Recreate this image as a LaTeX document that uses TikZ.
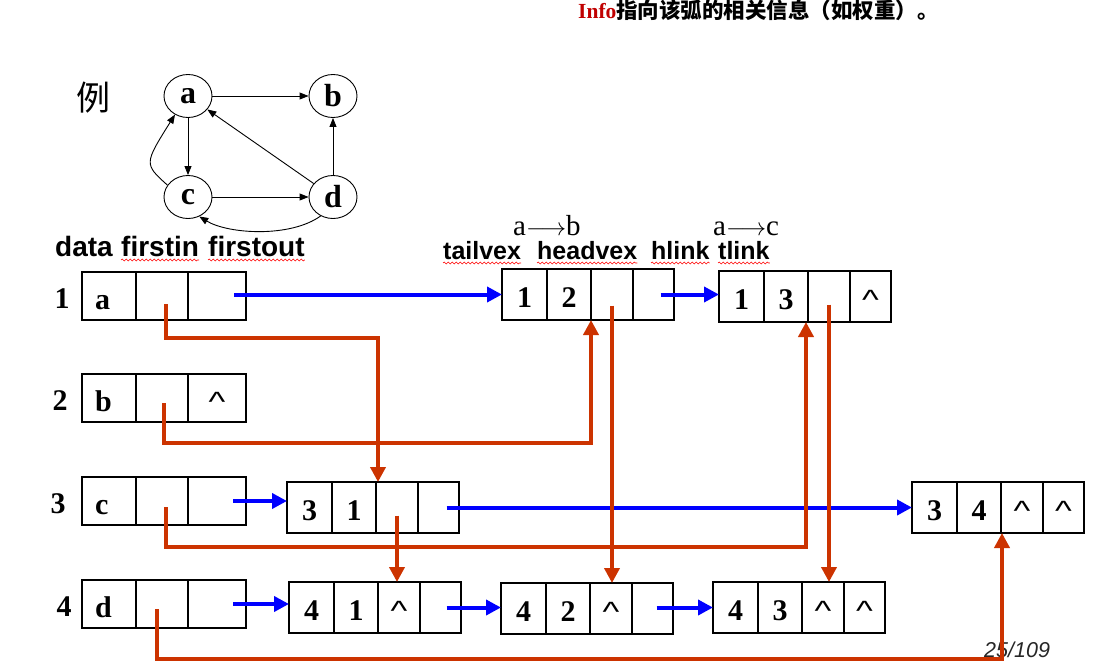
\documentclass[tikz,border=0pt]{standalone}
\usepackage{fontspec}
\setmainfont{Liberation Serif}
\setsansfont{Liberation Sans}
\newfontfamily\cjkfont{Noto Sans CJK SC}
\usetikzlibrary{positioning,arrows.meta,shapes.geometric,decorations.pathmorphing}
\definecolor{linkred}{RGB}{204,51,0}
\definecolor{linkblue}{RGB}{0,0,255}
\definecolor{infored}{RGB}{192,0,0}
\newcommand{\fsz}[1]{\fontsize{#1}{#1}\selectfont}
\newcommand{\emptyptr}{{\normalfont\sffamily\fsz{31}\scalebox{1.15}[0.9]{\textasciicircum}}}
\newcommand{\arcto}{$\longrightarrow$}

\tikzset{
  cell/.style={draw,line width=1.2pt,inner sep=0pt,outer sep=0pt,minimum width=#1,
    text height=26pt,text depth=0pt,font=\bfseries\fsz{30}},
  vcell/.style={cell=#1,minimum height=48pt},
  acell/.style={cell=#1,minimum height=51pt},
  blink/.style={linkblue,line width=4pt,-{Triangle[length=15pt,width=15pt]}},
  rlink/.style={linkred,line width=4pt,-{Triangle[length=15pt,width=15pt]}},
  gnode/.style={draw,ellipse,line width=0.9pt,minimum width=48pt,minimum height=43pt,
    inner sep=0pt,font=\bfseries\fsz{32}},
  garc/.style={line width=0.9pt,-{Triangle[length=9pt,width=7pt]}},
  squiggle/.style={red,line width=0.6pt,decorate,decoration={snake,amplitude=0.9pt,segment length=4pt}},
  head/.style={anchor=base west,inner sep=0pt,font=\sffamily\bfseries\fsz{#1}}
}

\begin{document}
\begin{tikzpicture}[x=1pt,y=-1pt]
\useasboundingbox (0,0) rectangle (1100,669);

% title line
\node[anchor=base west,inner sep=0pt,font=\fsz{21.5}] (title) at (578,19)
  {\textcolor{infored}{\bfseries Info}{\cjkfont\bfseries 指向该弧的相关信息（如权重）。}};

% the example graph
\node[font=\fsz{34}] (example) at (93,98) {\cjkfont 例};
\node[gnode] (a) at (188,96) {a};
\node[gnode] (b) at (333,96) {b};
\node[gnode] (c) at (188,197) {c};
\node[gnode] (d) at (333,197) {d};
\draw[garc] (a) -- (b);
\draw[garc] (a) -- (c);
\draw[garc] (c) -- (d);
\draw[garc] (d) -- (b);
\draw[garc] (d) -- (a);
\draw[garc] (c.150) .. controls (144,164) .. (a.235);
\draw[garc] (d.237) .. controls (290,238) and (228,234) .. (c.300);

% field names
\node[head=28] (data) at (55,256) {data};
\node[head=28] (firstin) at (121,256) {firstin};
\node[head=28] (firstout) at (208,256) {firstout};
\node[head=25] (tailvex) at (443,259) {tailvex};
\node[head=25] (headvex) at (537,259) {headvex};
\node[head=25] (hlink) at (651,259) {hlink};
\node[head=25] (tlink) at (718,259) {tlink};
\foreach \w in {firstin,firstout,tailvex,headvex,hlink,tlink}
  \draw[squiggle] ([yshift=-4pt]\w.base west) -- ([yshift=-4pt]\w.base east);
\node[anchor=base west,inner sep=0pt,font=\fsz{29}] (ab) at (513,235) {a\arcto b};
\node[anchor=base west,inner sep=0pt,font=\fsz{29}] (ac) at (713,235) {a\arcto c};

% vertex list
\foreach \r/\x/\y/\v/\last in {1/62/272/a/{},2/60/374/b/\emptyptr,3/58/477/c/{},4/64/580/d/{}}{
  \node[anchor=base,inner sep=0pt,font=\bfseries\fsz{30}] (num\r) at (\x,\y+36) {\r};
  \node[vcell=54pt,anchor=north west] (v\r d) at (82,\y) {\makebox[28pt][l]{\v}};
  \node[vcell=52pt,right=0pt of v\r d] (v\r in) {};
  \node[vcell=58pt,right=0pt of v\r in] (v\r out) {\last};
}

% arc boxes
\foreach \n/\x/\y/\p/\q/\s/\t in {A/502/269/1/2/{}/{},B/719/271/1/3/{}/\emptyptr,
    C/287/482/3/1/{}/{},D/912/482/3/4/\emptyptr/\emptyptr,E/289/582/4/1/\emptyptr/{},
    F/501/583/4/2/\emptyptr/{},G/713/582/4/3/\emptyptr/\emptyptr}{
  \node[acell=45pt,anchor=north west] (\n1) at (\x,\y) {\p};
  \node[acell=44pt,right=0pt of \n1] (\n2) {\q};
  \node[acell=42pt,right=0pt of \n2] (\n3) {\s};
  \node[acell=41pt,right=0pt of \n3] (\n4) {\t};
}

\node[anchor=base west,inner sep=0pt,font=\sffamily\itshape\fsz{21.5},black!85] (page) at (984,657) {25/109};

% tail links
\draw[blink] ([xshift=17pt]v1out.center |- A1.west) -- (A1.west);
\draw[blink] ([xshift=7pt]A4.center) -- (B1.west |- A4.center);
\draw[blink] ([xshift=16pt]v3out.center) -- (C1.west |- v3out.center);
\draw[blink] ([xshift=8pt]C4.center) -- (D1.west);
\draw[blink] ([xshift=16pt]v4out.center) -- (E1.west |- v4out.center);
\draw[blink] ([xshift=6pt]E4.center) -- (F1.west |- E4.center);
\draw[blink] ([xshift=4pt]F4.center |- G1.west) -- (G1.west);

% head links
\draw[rlink] ([shift={(4,8)}]v1in.center) -- ++(0,34) -| ([xshift=2pt]C3.north west);
\draw[rlink] ([shift={(2,5)}]v2in.center) -- ++(0,40) -| (A3.south west);
\draw[rlink] ([shift={(4,6)}]v3in.center) -- ++(0,40) -| ([xshift=-2pt]B3.south west);
\draw[rlink] ([shift={(-5,5)}]v4in.center) -- ++(0,50) -| ([xshift=1pt]D3.south west);
\draw[rlink] ([yshift=-11pt]A3.center) -- (A3.center |- F3.north);
\draw[rlink] ([yshift=-8pt]B3.center) -- (B3.center |- G3.north);
\draw[rlink] ([yshift=-8pt]C3.center) -- (C3.center |- E3.north);
\end{tikzpicture}
\end{document}
